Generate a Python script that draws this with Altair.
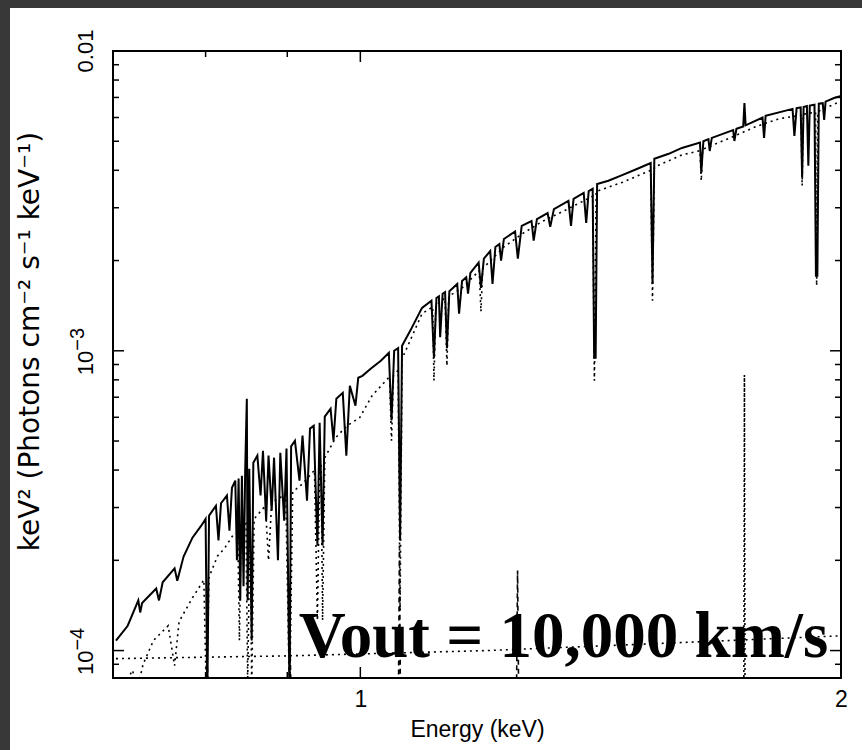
import altair as alt
import pandas as pd

# ---------------- data ----------------
# total model (solid)
solid_energy = [
    0.703, 0.715, 0.726, 0.728, 0.730, 0.745, 0.748, 0.752, 0.765, 0.768,
    0.775, 0.785, 0.795, 0.800, 0.802, 0.804, 0.812, 0.815, 0.818, 0.825,
    0.828, 0.831, 0.835, 0.837, 0.839, 0.841, 0.843, 0.845, 0.847, 0.849,
    0.850, 0.852, 0.855, 0.857, 0.862, 0.866, 0.869, 0.873, 0.876, 0.880,
    0.883, 0.888, 0.891, 0.896, 0.899, 0.903, 0.905, 0.910, 0.916, 0.920,
    0.926, 0.930, 0.935, 0.940, 0.943, 0.947, 0.950, 0.958, 0.962, 0.966,
    0.975, 0.980, 0.985, 0.993, 0.997, 1.003, 1.015, 1.030, 1.042, 1.046,
    1.050, 1.056, 1.059, 1.062, 1.075, 1.093, 1.108, 1.112, 1.116, 1.120,
    1.122, 1.126, 1.130, 1.133, 1.137, 1.150, 1.153, 1.158, 1.165, 1.168,
    1.172, 1.186, 1.190, 1.195, 1.206, 1.210, 1.215, 1.222, 1.225, 1.230,
    1.250, 1.255, 1.262, 1.280, 1.284, 1.290, 1.310, 1.315, 1.322, 1.350,
    1.355, 1.360, 1.380, 1.385, 1.390, 1.398, 1.401, 1.404, 1.407, 1.430,
    1.460, 1.490, 1.520, 1.524, 1.528, 1.560, 1.590, 1.632, 1.635, 1.640,
    1.652, 1.655, 1.660, 1.712, 1.715, 1.720, 1.737, 1.740, 1.743, 1.786,
    1.790, 1.794, 1.865, 1.870, 1.876, 1.887, 1.891, 1.895, 1.904, 1.908,
    1.912, 1.925, 1.929, 1.933, 1.937, 1.948, 1.952, 1.956, 1.980, 2.000,
]
solid_flux = [
    1.08e-4, 1.21e-4, 1.47e-4, 1.34e-4, 1.44e-4, 1.61e-4, 1.47e-4, 1.69e-4, 1.88e-4, 1.71e-4,
    2.06e-4, 2.38e-4, 2.61e-4, 2.75e-4, 7.0e-5, 2.82e-4, 3.04e-4, 2.33e-4, 3.10e-4, 3.29e-4,
    2.51e-4, 3.49e-4, 3.69e-4, 2.00e-4, 3.75e-4, 1.47e-4, 3.83e-4, 1.64e-4, 3.98e-4, 6.92e-4,
    1.47e-4, 4.04e-4, 1.08e-4, 4.23e-4, 4.47e-4, 3.29e-4, 4.64e-4, 2.71e-4, 4.47e-4, 2.93e-4,
    4.40e-4, 2.00e-4, 4.57e-4, 2.71e-4, 4.72e-4, 7.0e-5, 4.80e-4, 5.01e-4, 3.69e-4, 5.21e-4,
    3.16e-4, 5.50e-4, 5.62e-4, 2.24e-4, 5.75e-4, 2.24e-4, 6.03e-4, 6.41e-4, 5.01e-4, 6.92e-4,
    7.24e-4, 4.47e-4, 7.64e-4, 6.56e-4, 8.13e-4, 8.25e-4, 8.71e-4, 9.26e-4, 9.85e-4, 5.85e-4,
    1.00e-3, 1.02e-3, 2.33e-4, 1.04e-3, 1.17e-3, 1.39e-3, 1.47e-3, 9.48e-4, 1.50e-3, 1.52e-3,
    1.11e-3, 1.55e-3, 1.57e-3, 1.02e-3, 1.58e-3, 1.67e-3, 1.33e-3, 1.71e-3, 1.76e-3, 1.55e-3,
    1.82e-3, 1.97e-3, 1.62e-3, 2.03e-3, 2.15e-3, 1.67e-3, 2.22e-3, 2.27e-3, 2.00e-3, 2.36e-3,
    2.50e-3, 2.03e-3, 2.61e-3, 2.71e-3, 2.33e-3, 2.75e-3, 2.88e-3, 2.59e-3, 2.97e-3, 3.16e-3,
    2.61e-3, 3.21e-3, 3.36e-3, 2.67e-3, 3.41e-3, 3.47e-3, 9.48e-4, 9.48e-4, 3.60e-3, 3.69e-3,
    3.86e-3, 4.04e-3, 4.23e-3, 1.67e-3, 4.37e-3, 4.54e-3, 4.75e-3, 4.95e-3, 3.92e-3, 5.00e-3,
    5.08e-3, 4.64e-3, 5.13e-3, 5.45e-3, 5.01e-3, 5.50e-3, 5.60e-3, 6.71e-3, 5.65e-3, 6.00e-3,
    5.13e-3, 6.08e-3, 6.41e-3, 5.21e-3, 6.45e-3, 6.48e-3, 3.78e-3, 6.50e-3, 6.55e-3, 4.14e-3,
    6.58e-3, 6.62e-3, 1.78e-3, 1.78e-3, 6.67e-3, 6.70e-3, 5.89e-3, 6.78e-3, 6.97e-3, 7.08e-3,
]

# absorbed component (dotted)
dotted_energy = [
    0.703, 0.720, 0.725, 0.731, 0.742, 0.758, 0.765, 0.770, 0.785, 0.798,
    0.801, 0.804, 0.814, 0.822, 0.832, 0.838, 0.840, 0.842, 0.848, 0.850,
    0.853, 0.855, 0.858, 0.872, 0.876, 0.880, 0.898, 0.903, 0.907, 0.920,
    0.936, 0.940, 0.943, 0.945, 0.947, 0.950, 0.965, 0.981, 0.999, 1.017,
    1.043, 1.046, 1.049, 1.056, 1.059, 1.062, 1.093, 1.110, 1.112, 1.115,
    1.130, 1.133, 1.136, 1.158, 1.187, 1.190, 1.193, 1.230, 1.262, 1.300,
    1.345, 1.398, 1.4015, 1.405, 1.460, 1.520, 1.524, 1.528, 1.590, 1.632,
    1.635, 1.638, 1.700, 1.770, 1.830, 1.888, 1.891, 1.894, 1.928, 1.931,
    1.934, 2.000,
]
dotted_flux = [
    6.8e-5, 8.6e-5, 7.4e-5, 9.0e-5, 1.08e-4, 1.21e-4, 8.9e-5, 1.25e-4, 1.50e-4, 1.72e-4,
    6.8e-5, 1.76e-4, 2.07e-4, 2.19e-4, 2.42e-4, 2.48e-4, 1.08e-4, 2.55e-4, 2.65e-4, 7.9e-5,
    2.68e-4, 7.5e-5, 2.75e-4, 3.04e-4, 2.00e-4, 3.12e-4, 3.32e-4, 6.8e-5, 3.38e-4, 3.60e-4,
    4.00e-4, 1.26e-4, 4.10e-4, 4.20e-4, 1.26e-4, 4.40e-4, 5.13e-4, 5.62e-4, 5.98e-4, 7.08e-4,
    8.20e-4, 5.01e-4, 8.30e-4, 8.60e-4, 1.36e-4, 9.40e-4, 1.33e-3, 1.40e-3, 7.94e-4, 1.42e-3,
    1.50e-3, 8.91e-4, 1.52e-3, 1.62e-3, 1.85e-3, 1.35e-3, 1.88e-3, 2.22e-3, 2.45e-3, 2.70e-3,
    2.95e-3, 3.28e-3, 7.94e-4, 3.40e-3, 3.65e-3, 4.00e-3, 1.47e-3, 4.10e-3, 4.50e-3, 4.65e-3,
    3.69e-3, 4.70e-3, 5.10e-3, 5.60e-3, 5.95e-3, 6.10e-3, 3.55e-3, 6.15e-3, 6.25e-3, 1.65e-3,
    6.28e-3, 6.80e-3,
]

# power-law component (dotted, near the bottom)
powerlaw_energy = [0.703, 0.9, 1.2, 1.5, 2.0]
powerlaw_flux = [9.4e-5, 9.6e-5, 1.0e-4, 1.05e-4, 1.12e-4]

# narrow emission component (dashed)
dashed_energy = [0.800, 0.8015, 0.803, 0.902, 0.9035, 0.905,
                 1.0565, 1.058, 1.0595, 1.2525, 1.2545, 1.2565]
dashed_flux = [7e-5, 1.0e-4, 7e-5, 7e-5, 1.07e-4, 7e-5,
               7e-5, 2.24e-4, 7e-5, 7e-5, 1.85e-4, 7e-5]

# single emission line (dotted)
line_energy = [1.7385, 1.740, 1.7415]
line_flux = [7e-5, 8.3e-4, 7e-5]

# axis ticks and tick labels
x_major = [1.0, 2.0]
x_minor = [0.8, 0.9]
y_major = [1e-4, 1e-3, 1e-2]
y_minor = [9e-5, 2e-4, 3e-4, 4e-4, 5e-4, 6e-4, 7e-4, 8e-4, 9e-4,
           2e-3, 3e-3, 4e-3, 5e-3, 6e-3, 7e-3, 8e-3, 9e-3]
y_plain_label_values = [1e-2]
y_plain_labels = ["0.01"]
y_power_label_values = [1e-4, 1e-3]
y_power_bases = ["10", "10"]
y_power_exponents = ["\u22124", "\u22123"]

annotation = ["Vout = 10,000 km/s"]
annotation_energy = [0.915]
annotation_flux = [9.5e-5]

# ---------------- chart ----------------
W, H = 728, 627
FONT = "Liberation Sans"
YFONT = "DejaVu Sans"
DARK = "#383838"
x_scale = alt.Scale(type="log", domain=[0.7, 2.0], nice=False)
y_scale = alt.Scale(type="log", domain=[8.1e-5, 1.0e-2], nice=False)


def frame(E, F):
    return pd.DataFrame({"energy": E, "flux": F, "order": list(range(len(E)))})


def curve(E, F, dash=None, width=1.6):
    kw = dict(color="black", strokeWidth=width, clip=True)
    if dash:
        kw["strokeDash"] = dash
    return alt.Chart(frame(E, F)).mark_line(**kw).encode(
        x=alt.X("energy:Q", scale=x_scale, axis=None),
        y=alt.Y("flux:Q", scale=y_scale, axis=None),
        order="order:Q",
    )


x_axis = alt.Axis(
    values=x_major, format="~g", ticks=False, tickSize=0, domain=False, grid=False,
    labelFont=FONT, labelFontSize=23, labelColor="black", labelPadding=10,
    labelFlush=False, zindex=1,
    title="Energy (keV)", titleFont=FONT, titleFontSize=23,
    titleFontWeight="normal", titleColor="black", titlePadding=7,
)
y_axis = alt.Axis(
    values=y_major, ticks=False, tickSize=0, domain=False, grid=False, labels=False,
    zindex=1,
    title="keV² (Photons cm⁻² s⁻¹ keV⁻¹)", titleFont=YFONT, titleFontSize=28,
    titleFontWeight="normal", titleColor="black", titleAngle=270,
    titleX=-83, titleY=290, titleAlign="center", titleBaseline="middle",
)

solid = alt.Chart(frame(solid_energy, solid_flux)).mark_line(
    color="black", strokeWidth=2, clip=True
).encode(
    x=alt.X("energy:Q", scale=x_scale, axis=x_axis),
    y=alt.Y("flux:Q", scale=y_scale, axis=y_axis),
    order="order:Q",
)

# dark margins of the picture (left and top strips)
one = pd.DataFrame({"a": [0]})
strip_left = alt.Chart(one).mark_rect(color=DARK, clip=False).encode(
    x=alt.value(-113), x2=alt.value(-103), y=alt.value(-51), y2=alt.value(H + 72))
strip_top = alt.Chart(one).mark_rect(color=DARK, clip=False).encode(
    x=alt.value(-113), x2=alt.value(W + 21), y=alt.value(-51), y2=alt.value(-43))


def yticks(vals, length):
    d = pd.DataFrame({"v": vals})
    left = alt.Chart(d).mark_rule(color="black", strokeWidth=1.5).encode(
        y=alt.Y("v:Q", scale=y_scale, axis=None), x=alt.value(0), x2=alt.value(length))
    right = alt.Chart(d).mark_rule(color="black", strokeWidth=1.5).encode(
        y=alt.Y("v:Q", scale=y_scale, axis=None), x=alt.value(W - length), x2=alt.value(W))
    return [left, right]


def xticks(vals, length):
    d = pd.DataFrame({"v": vals})
    bottom = alt.Chart(d).mark_rule(color="black", strokeWidth=1.5).encode(
        x=alt.X("v:Q", scale=x_scale, axis=None), y=alt.value(H - length), y2=alt.value(H))
    top = alt.Chart(d).mark_rule(color="black", strokeWidth=1.5).encode(
        x=alt.X("v:Q", scale=x_scale, axis=None), y=alt.value(0), y2=alt.value(length))
    return [bottom, top]


# rotated y tick labels (base + raised exponent)
def ylabel(values, texts, xpos, align, size):
    d = pd.DataFrame({"v": values, "t": texts})
    return alt.Chart(d).mark_text(
        font=FONT, fontSize=size, color="black", angle=270,
        align=align, baseline="bottom", clip=False,
    ).encode(
        y=alt.Y("v:Q", scale=y_scale, axis=None),
        x=alt.value(xpos),
        text="t:N",
    )


label = alt.Chart(pd.DataFrame({
    "text": annotation, "energy": annotation_energy, "flux": annotation_flux
})).mark_text(
    font="Liberation Serif", fontWeight="bold", fontSize=65, color="black",
    align="left", baseline="alphabetic",
).encode(
    x=alt.X("energy:Q", scale=x_scale, axis=None),
    y=alt.Y("flux:Q", scale=y_scale, axis=None),
    text="text:N",
)

layers = [solid,
          strip_left, strip_top,
          curve(powerlaw_energy, powerlaw_flux, dash=[2, 4]),
          curve(line_energy, line_flux, dash=[2, 3]),
          curve(dashed_energy, dashed_flux, dash=[5, 4]),
          curve(dotted_energy, dotted_flux, dash=[2, 4])]
layers += yticks(y_major, 11) + yticks(y_minor, 6) + xticks(x_major, 11) + xticks(x_minor, 6)
layers += [
    ylabel(y_plain_label_values, y_plain_labels, -15, "center", 22),
    ylabel(y_power_label_values, y_power_bases, -15, "right", 22),
    ylabel(y_power_label_values, y_power_exponents, -25, "left", 20),
]
layers.append(label)

chart = alt.layer(*layers).resolve_axis(
    x="independent", y="independent"
).properties(
    width=W, height=H,
    background="white",
    padding={"left": 113, "top": 51, "right": 21, "bottom": 72},
    autosize=alt.AutoSizeParams(type="none"),
).configure_view(
    stroke="black", strokeWidth=2, fill="white"
)

chart.save("out.html", embed_options={"renderer": "svg", "actions": False})
